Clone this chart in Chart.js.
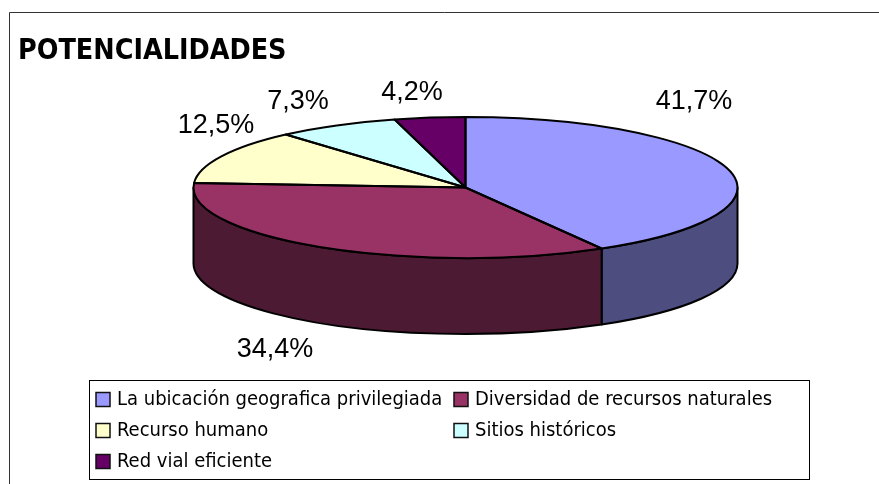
<!DOCTYPE html>
<html><head><meta charset="utf-8">
<style>html,body{margin:0;padding:0;background:#fff;overflow:hidden}canvas{display:block}</style>
<script src="https://cdn.jsdelivr.net/npm/chart.js@4"></script>
</head><body><canvas id="c" width="879" height="484"></canvas>
<script>
const chartTitle = 'POTENCIALIDADES';
const categories = ['La ubicación geografica privilegiada','Diversidad de recursos naturales','Recurso humano','Sitios históricos','Red vial eficiente'];
const shares = [41.7,34.4,12.5,7.3,4.2];
const topColors = ['#9999FF','#993366','#FFFFCC','#CCFFFF','#660066'];
const sideColors = ['#4D4D80','#4D1A33','#80805F','#668080','#330033'];

// layout only
const PIE = {cx:465.5, cy:187.5, rx:272, ry:70.5, depth:76};
const LABEL_AT = [[694,102],[275,350],[216,126],[298,102],[412,93]];
const LEGEND = {x:89.5,y:380.5,w:720,h:99,swatch:[96,454],text:[117,475],rows:[399.5,430.5,461.5]};
const LEGEND_SLOT = [[0,0],[1,0],[0,1],[1,1],[0,2]];

const pie3d = {
  id:'pie3d',
  beforeDraw(chart){
    const c=chart.ctx; c.save();
    c.strokeStyle='#333'; c.lineWidth=1;
    c.beginPath(); c.moveTo(9.5,484); c.lineTo(9.5,12.5); c.lineTo(879,12.5); c.stroke();
    c.restore();
  },
  beforeDatasetsDraw(chart){
    const c=chart.ctx, arcs=chart.getDatasetMeta(0).data;
    c.save(); c.lineWidth=2; c.strokeStyle='#000'; c.lineJoin='round';
    arcs.forEach((arc,i)=>{
      const s=Math.max(arc.startAngle,0), e=Math.min(arc.endAngle,Math.PI);
      if(e<=s) return;
      c.beginPath();
      c.ellipse(PIE.cx,PIE.cy,PIE.rx,PIE.ry,0,s,e,false);
      c.ellipse(PIE.cx,PIE.cy+PIE.depth,PIE.rx,PIE.ry,0,e,s,true);
      c.closePath();
      c.fillStyle=sideColors[i]; c.fill(); c.stroke();
    });
    c.restore();
    const a0=arcs[0];
    c.save();
    c.translate(PIE.cx,PIE.cy);
    c.scale(PIE.rx/a0.outerRadius,PIE.ry/a0.outerRadius);
    c.translate(-a0.x,-a0.y);
  },
  afterDatasetsDraw(chart){
    const c=chart.ctx, arcs=chart.getDatasetMeta(0).data;
    c.restore();
    c.save(); c.lineWidth=2; c.strokeStyle='#000'; c.lineJoin='round';
    arcs.forEach(arc=>{
      c.beginPath();
      c.moveTo(PIE.cx,PIE.cy);
      c.ellipse(PIE.cx,PIE.cy,PIE.rx,PIE.ry,0,arc.startAngle,arc.endAngle,false);
      c.closePath(); c.stroke();
    });
    c.restore();
    c.save(); c.fillStyle='#000'; c.font='27px "Liberation Sans"'; c.textAlign='center'; c.textBaseline='middle';
    shares.forEach((v,i)=>c.fillText(v.toFixed(1).replace('.',',')+'%',LABEL_AT[i][0],LABEL_AT[i][1]));
    c.restore();
    c.save();
    c.fillStyle='#fff'; c.strokeStyle='#000'; c.lineWidth=1;
    c.fillRect(LEGEND.x,LEGEND.y,LEGEND.w,LEGEND.h); c.strokeRect(LEGEND.x,LEGEND.y,LEGEND.w,LEGEND.h);
    c.textAlign='left'; c.textBaseline='middle'; c.font='20px "DejaVu Sans Condensed"';
    categories.forEach((t,i)=>{
      const [col,row]=LEGEND_SLOT[i], y=LEGEND.rows[row];
      c.fillStyle=topColors[i]; c.lineWidth=1.5; c.strokeStyle='#111';
      c.fillRect(LEGEND.swatch[col],y-7,14,14); c.strokeRect(LEGEND.swatch[col],y-7,14,14);
      c.fillStyle='#000'; c.fillText(t,LEGEND.text[col],y);
    });
    c.restore();
  }
};

new Chart(document.getElementById('c'),{
  type:'pie',
  data:{labels:categories,datasets:[{data:shares,backgroundColor:topColors,borderWidth:0}]},
  options:{
    responsive:false,animation:false,
    layout:{padding:{left:18,top:31}},
    plugins:{
      legend:{display:false},tooltip:{enabled:false},
      title:{display:true,text:chartTitle,align:'start',color:'#000',
        font:{family:'"DejaVu Sans Condensed"',size:28.4,weight:'bold'},padding:{top:4,bottom:10}}
    }
  },
  plugins:[pie3d]
});
</script>
</body></html>
